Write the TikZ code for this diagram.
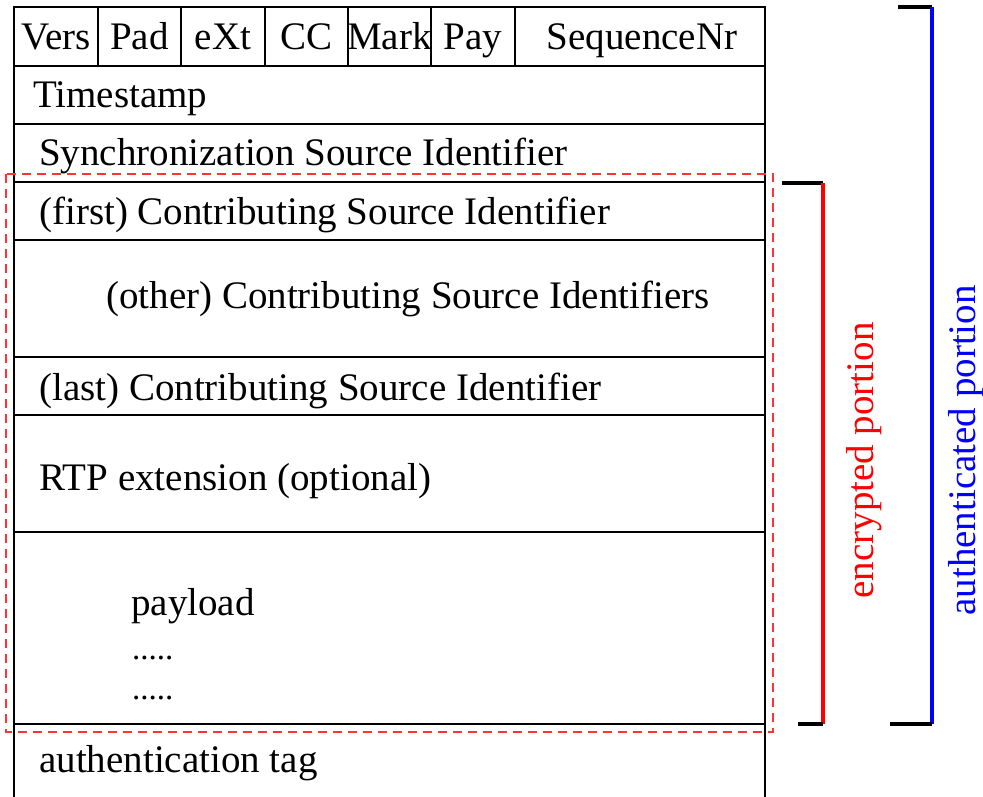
\documentclass[tikz,border=0pt]{standalone}
\usepackage{fontspec}
\setmainfont{Liberation Serif}
\begin{document}
\begin{tikzpicture}[x=1pt, y=-1pt,
  font=\fontsize{39}{45}\selectfont,
  frame/.style={line width=1.2pt, black},
  label/.style={inner sep=0pt, anchor=base west},
  hdr/.style={inner sep=0pt, anchor=base},
  dotrow/.style={inner sep=0pt, anchor=base west, font=\fontsize{33}{40}\selectfont},
  encbox/.style={red!80, line width=1.2pt, dash pattern=on 9pt off 6pt},
  tick/.style={black, line width=3.4pt},
  encbar/.style={red, line width=3.4pt},
  authbar/.style={blue, line width=3.4pt},
  sidelabel/.style={inner sep=0pt, anchor=base, rotate=90}]
\useasboundingbox (0,0) rectangle (983,797);

% packet outline: left and right sides run off the bottom (tag row open)
\draw[frame] (14,797) -- (14,7) -- (765,7) -- (765,797);
\foreach \yy in {66,124,182,240,357,415,532,724}
  \draw[frame] (14,\yy) -- (765,\yy);

% header field dividers
\foreach \xx in {98,181,265,348,431,515}
  \draw[frame] (\xx,7) -- (\xx,66);

% header fields
\node[hdr] (vers) at (56,50) {Vers};
\node[hdr] (pad)  at (139.5,50) {Pad};
\node[hdr] (ext)  at (223,50) {eXt};
\node[hdr] (cc)   at (306.5,50) {CC};
\node[hdr] (mark) at (389.5,50) {Mark};
\node[hdr] (pay)  at (473,50) {Pay};
\node[hdr] (seq)  at (642,50) {SequenceNr};

% full-width fields
\node[label] (ts)    at (33,108) {Timestamp};
\node[label] (ssrc)  at (39,166) {Synchronization Source Identifier};
\node[label] (first) at (39,224) {(first) Contributing Source Identifier};
\node[label] (other) at (106,308) {(other) Contributing Source Identifiers};
\node[label] (last)  at (39,400) {(last) Contributing Source Identifier};
\node[label] (ext2)  at (39,490) {RTP extension (optional)};
\node[label] (pl)    at (131,615) {payload};
\node[dotrow] (dots1) at (132,659) {.....};
\node[dotrow] (dots2) at (132,699) {.....};
\node[label] (tag)   at (39,772) {authentication tag};

% encrypted region
\draw[encbox] (6,174) rectangle (773,732);

% encrypted portion bracket
\coordinate (e1) at (782,183);
\coordinate (e2) at (823,183);
\coordinate (e3) at (823,724);
\coordinate (e4) at (798,724);
\draw[tick] (e1) -- (e2);
\draw[encbar] (e2) -- (e3);
\draw[tick] (e4) -- (e3);
\node[sidelabel, text=red] (enc) at (873,460.5) {encrypted portion};

% authenticated portion bracket
\coordinate (a1) at (898,7);
\coordinate (a2) at (932,7);
\coordinate (a3) at (932,724);
\coordinate (a4) at (890,724);
\draw[tick] (a1) -- (a2);
\draw[authbar] (a2) -- (a3);
\draw[tick] (a4) -- (a3);
\node[sidelabel, text=blue] (auth) at (975,450.5) {authenticated portion};
\end{tikzpicture}
\end{document}
